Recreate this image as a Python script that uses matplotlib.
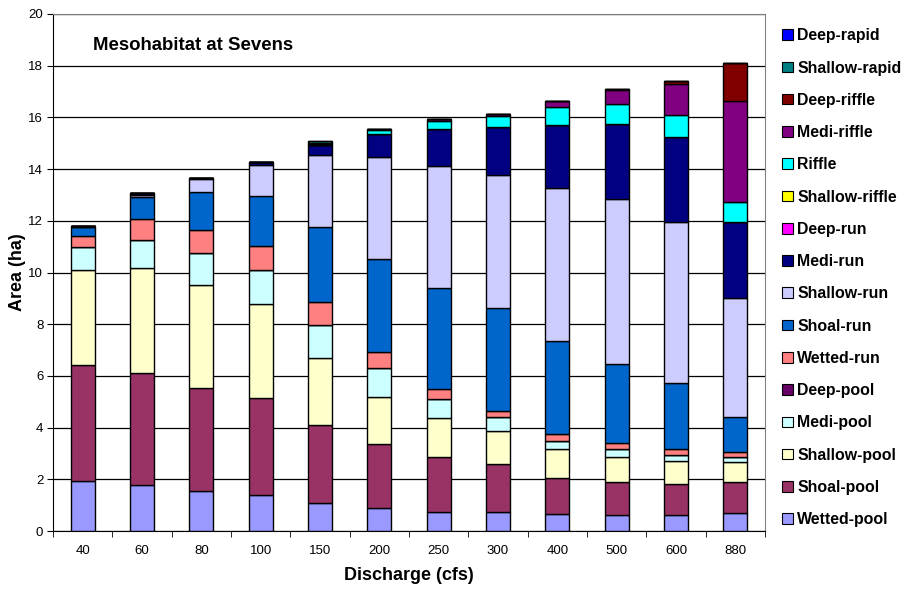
import matplotlib
matplotlib.use("Agg")
import matplotlib.pyplot as plt
import numpy as np
from matplotlib.patches import Patch

plt.rcParams['font.family'] = ['Liberation Sans', 'DejaVu Sans']

discharge = ['40', '60', '80', '100', '150', '200', '250', '300', '400', '500', '600', '880']

# areas (ha) per mesohabitat, bottom of stack first
wetted_pool    = [1.95, 1.78, 1.55, 1.38, 1.07, 0.88, 0.75, 0.72, 0.65, 0.62, 0.62, 0.68]
shoal_pool     = [4.47, 4.34, 3.99, 3.75, 3.03, 2.47, 2.10, 1.86, 1.41, 1.29, 1.19, 1.20]
shallow_pool   = [3.68, 4.04, 3.99, 3.65, 2.58, 1.85, 1.51, 1.30, 1.10, 0.96, 0.91, 0.80]
medi_pool      = [0.89, 1.11, 1.21, 1.32, 1.29, 1.09, 0.75, 0.52, 0.33, 0.29, 0.22, 0.19]
deep_pool      = [0.00, 0.00, 0.00, 0.00, 0.00, 0.00, 0.00, 0.00, 0.00, 0.00, 0.00, 0.00]
wetted_run     = [0.42, 0.79, 0.90, 0.91, 0.88, 0.62, 0.40, 0.24, 0.26, 0.26, 0.23, 0.17]
shoal_run      = [0.36, 0.87, 1.46, 1.95, 2.92, 3.61, 3.90, 3.97, 3.60, 3.04, 2.54, 1.38]
shallow_run    = [0.00, 0.07, 0.50, 1.20, 2.78, 3.96, 4.71, 5.16, 5.91, 6.37, 6.26, 4.58]
medi_run       = [0.04, 0.06, 0.07, 0.10, 0.38, 0.86, 1.43, 1.87, 2.45, 2.90, 3.26, 2.94]
deep_run       = [0.00, 0.00, 0.00, 0.00, 0.00, 0.00, 0.00, 0.00, 0.00, 0.00, 0.00, 0.00]
shallow_riffle = [0.00, 0.00, 0.00, 0.00, 0.00, 0.00, 0.00, 0.00, 0.00, 0.00, 0.00, 0.00]
riffle         = [0.00, 0.00, 0.00, 0.00, 0.03, 0.16, 0.32, 0.41, 0.70, 0.79, 0.86, 0.78]
medi_riffle    = [0.00, 0.00, 0.00, 0.00, 0.00, 0.05, 0.05, 0.08, 0.24, 0.54, 1.20, 3.93]
deep_riffle    = [0.00, 0.00, 0.00, 0.00, 0.04, 0.00, 0.00, 0.00, 0.00, 0.04, 0.13, 1.44]
shallow_rapid  = [0.00, 0.00, 0.00, 0.00, 0.07, 0.00, 0.00, 0.00, 0.00, 0.00, 0.00, 0.00]
deep_rapid     = [0.00, 0.00, 0.00, 0.00, 0.00, 0.00, 0.00, 0.00, 0.00, 0.00, 0.00, 0.00]

names = ['Wetted-pool', 'Shoal-pool', 'Shallow-pool', 'Medi-pool', 'Deep-pool',
         'Wetted-run', 'Shoal-run', 'Shallow-run', 'Medi-run', 'Deep-run',
         'Shallow-riffle', 'Riffle', 'Medi-riffle', 'Deep-riffle',
         'Shallow-rapid', 'Deep-rapid']
series = [wetted_pool, shoal_pool, shallow_pool, medi_pool, deep_pool,
          wetted_run, shoal_run, shallow_run, medi_run, deep_run,
          shallow_riffle, riffle, medi_riffle, deep_riffle,
          shallow_rapid, deep_rapid]
colors = ['#9999FF', '#993366', '#FFFFCC', '#CCFFFF', '#660066',
          '#FF8080', '#0066CC', '#CCCCFF', '#000080', '#FF00FF',
          '#FFFF00', '#00FFFF', '#800080', '#800000',
          '#008080', '#0000FF']

fig = plt.figure(figsize=(9.01, 5.90), dpi=100)
ax = fig.add_axes([53/901, 1-531/590, 712/901, 517/590])

x = np.arange(len(discharge))
bottom = np.zeros(len(discharge))
for vals, c in zip(series, colors):
    v = np.array(vals)
    ax.bar(x, v, 0.4, bottom=bottom, color=c, edgecolor='black', linewidth=1.0, zorder=3)
    bottom += v

ax.set_xlim(-0.5, len(discharge) - 0.5)
ax.set_ylim(0, 20)
ax.set_yticks(np.arange(0, 21, 2))
ax.yaxis.grid(True, color='#000000', linewidth=0.9, zorder=0)
ax.set_xticks(x)
ax.set_xticklabels(discharge, fontsize=9.5)
ax.set_xticks(np.arange(-0.5, len(discharge), 1), minor=True)
ax.tick_params(axis='x', which='major', length=0, pad=10)
ax.tick_params(axis='x', which='minor', length=4, direction='out')
ax.tick_params(axis='y', length=4, direction='out', labelsize=9.5, pad=3)
for s in ['top', 'right']:
    ax.spines[s].set_color('#808080')
for s in ['left', 'bottom']:
    ax.spines[s].set_color('black')

ax.set_xlabel('Discharge (cfs)', fontsize=13, fontweight='bold', labelpad=7)
ax.set_ylabel('Area (ha)', fontsize=13, fontweight='bold', labelpad=2)
ax.text(0.056, 0.94, 'Mesohabitat at Sevens', transform=ax.transAxes,
        fontsize=13.4, fontweight='bold', va='center', ha='left')

handles = [Patch(facecolor=c, edgecolor='black', linewidth=0.8, label=n)
           for n, c in zip(names, colors)][::-1]
fig.legend(handles=handles, loc='upper left', bbox_to_anchor=(768/901, 1-14/590),
           frameon=False, prop={'size': 11.4, 'weight': 'bold'},
           handlelength=0.65, handleheight=0.65, handletextpad=0.3, labelspacing=1.09)

fig.savefig('out.png', dpi=100)
